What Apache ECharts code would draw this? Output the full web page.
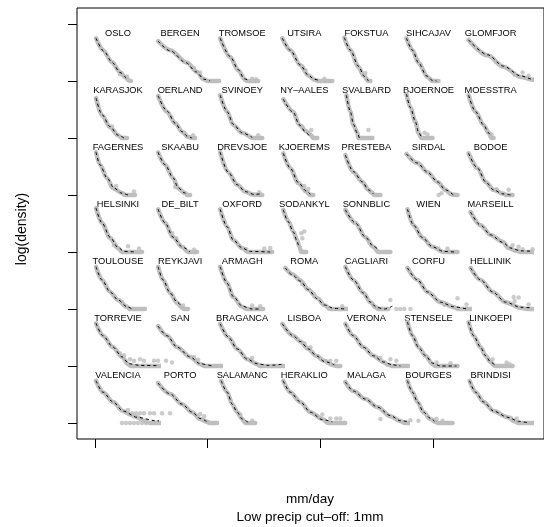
<!DOCTYPE html>
<html>
<head>
<meta charset="utf-8">
<script src="https://cdn.jsdelivr.net/npm/echarts@6/dist/echarts.min.js"></script>
<style>
  html, body { margin: 0; padding: 0; background: #fff; }
  #chart { width: 544px; height: 527px; }
</style>
</head>
<body>
<div id="chart"></div>
<script>
// station panels, read row by row (7 per row)
var stations = ['OSLO', 'BERGEN', 'TROMSOE', 'UTSIRA', 'FOKSTUA', 'SIHCAJAV', 'GLOMFJOR',
  'KARASJOK', 'OERLAND', 'SVINOEY', 'NY\u2013AALES', 'SVALBARD', 'BJOERNOE', 'MOESSTRA',
  'FAGERNES', 'SKAABU', 'DREVSJOE', 'KJOEREMS', 'PRESTEBA', 'SIRDAL', 'BODOE',
  'HELSINKI', 'DE_BILT', 'OXFORD', 'SODANKYL', 'SONNBLIC', 'WIEN', 'MARSEILL',
  'TOULOUSE', 'REYKJAVI', 'ARMAGH', 'ROMA', 'CAGLIARI', 'CORFU', 'HELLINIK',
  'TORREVIE', 'SAN', 'BRAGANCA', 'LISBOA', 'VERONA', 'STENSELE', 'LINKOEPI',
  'VALENCIA', 'PORTO', 'SALAMANC', 'HERAKLIO', 'MALAGA', 'BOURGES', 'BRINDISI'];

// empirical log-density (grey points), [mm/day, log density above floor]
var obsCurves = [
  [[0,7.5],[3.5,5.4],[8,3.3],[12,1.6],[14.5,0.7],[16.5,0.1],[17.5,0]],
  [[0,7.0],[6,5.4],[14.5,3.2],[19.5,1.6],[22.5,0.35],[25,0],[30.5,0]],
  [[0,7.5],[5,4.2],[9,1.9],[12.5,0.2],[13.5,0],[19,0]],
  [[0,7.5],[4,5.4],[9,2.8],[13,1.0],[16,0.2],[18,0],[25,0]],
  [[0,7.6],[3,5.4],[7,2.5],[9.5,1.0],[12,0],[13,0]],
  [[0,7.5],[3,5.4],[6,3.2],[10.5,0.7],[13,0],[16,0]],
  [[0,7.2],[9.5,4.5],[17.5,2.5],[26,0.7],[32.5,0.2],[37,0],[40,0]],
  [[0,7.0],[3,4.0],[7,1.9],[11,0.5],[13,0],[15.5,0]],
  [[0,7.4],[4.5,4.6],[8.5,2.6],[12,1.1],[15,0.2],[17,0],[18.5,0]],
  [[0,7.5],[3.5,4.6],[6.5,2.3],[11,0.9],[16.5,0],[21,0]],
  [[0.5,6.8],[5.5,4.6],[8.5,2.3],[12,1.2],[14,0.6],[15.5,0],[17.5,0]],
  [[1,7.5],[3,4.6],[4.5,2.3],[6.5,0.9],[7,0],[14,0]],
  [[0,7.7],[2,5.3],[4.5,2.8],[6,0.9],[7.5,0],[13,0]],
  [[0,7.5],[3.5,4.6],[7.5,2.3],[10,0.9],[11.5,0],[12.5,0]],
  [[0,7.5],[2,5.3],[5.5,3.0],[8.5,1.2],[13,0.35],[14.5,0],[19.5,0]],
  [[0,7.5],[3.5,5.3],[7.5,3.0],[10,1.2],[13.5,0.35],[14.5,0],[16,0]],
  [[0,7.5],[4,4.0],[8.5,1.8],[12.5,0.6],[16,0.1],[21,0]],
  [[0.5,7.3],[4,4.7],[8,2.1],[12,0.6],[14,0],[15.5,0]],
  [[0.5,7.0],[4.5,4.0],[9,2.3],[12,0.9],[14,0.35],[15,0],[18,0]],
  [[0,7.2],[5.5,5.6],[10.5,4.0],[15.5,2.3],[19.5,0.9],[22.5,0.1],[25.5,0]],
  [[0,7.3],[4.5,4.7],[8.5,2.3],[12.5,0.9],[17.5,0.2],[19,0],[22,0]],
  [[0,7.7],[3,5.1],[7,2.5],[11,0.7],[13,0],[23,0]],
  [[0,7.5],[3.5,5.1],[7.5,2.6],[12,0.9],[15,0],[19.5,0]],
  [[0,7.5],[3.5,4.4],[6.5,2.1],[11,0.7],[14,0],[26,0]],
  [[0.5,7.4],[3,5.4],[5.5,3.6],[7.5,2.0],[8.5,1.0],[9.5,0],[12,0]],
  [[0.5,7.4],[5.5,5.1],[10.5,2.6],[14.5,0.9],[17,0],[23,0]],
  [[0.5,7.5],[3.5,4.7],[8,2.5],[13,0.9],[18.5,0],[25.5,0]],
  [[1,7.0],[6,4.7],[11,3.0],[17,1.8],[20,0.7],[24,0.2],[26,0],[38,0]],
  [[0,7.4],[3,5.1],[7,3.0],[11,1.6],[15.5,0.35],[17,0],[24.5,0]],
  [[0,7.4],[2.5,5.1],[6,2.8],[9.5,1.1],[12,0.2],[13,0],[15,0]],
  [[0,7.4],[3.5,4.5],[6.5,2.1],[11,0.4],[13,0],[21.5,0]],
  [[1.5,7.2],[5,6.1],[9,5.0],[13,3.4],[17.5,1.9],[21,0.7],[24,0],[39,0]],
  [[0.5,7.4],[4.5,5.1],[9.5,2.8],[13,1.2],[15.5,0.35],[17,0],[22,0]],
  [[0.5,7.2],[5.5,5.1],[10.5,3.0],[17,1.2],[23.5,0.35],[26,0],[33.5,0]],
  [[1,7.2],[6,5.1],[12,3.0],[18.5,1.2],[26,0.2],[29,0],[38,0]],
  [[0,7.5],[3.5,5.3],[8.5,3.3],[13,1.6],[16,0.35],[17.5,0],[41,0]],
  [[0,7.0],[4.5,5.3],[9.5,3.3],[16,1.6],[21,0.35],[23,0],[48,0]],
  [[0,7.4],[4,5.1],[8.5,3.0],[13.5,1.2],[18.5,0.35],[20,0],[36.5,0]],
  [[0,7.4],[5.5,5.3],[9,4.3],[13,3.0],[17,1.8],[21,0.9],[25,0.2],[27,0],[29,0]],
  [[0.5,7.4],[4.5,5.3],[9.5,3.3],[14.5,1.8],[19.5,0.7],[22,0.2],[24,0],[32,0]],
  [[0.5,7.7],[3,5.3],[6,3.3],[9.5,1.8],[13,0.35],[14.5,0],[25.5,0]],
  [[0,7.7],[2.5,5.3],[6,3.3],[8.5,1.8],[11,0.7],[13,0],[22,0]],
  [[0,7.4],[3.5,5.4],[8.5,3.7],[13.5,2.1],[17,1.5],[20.5,1.0],[24,0.4],[27,0],[60,0]],
  [[0,7.0],[6,5.1],[12,3.3],[17,1.9],[21,0.7],[24.5,0.2],[26,0],[29.5,0]],
  [[0.5,7.4],[3.5,5.4],[6,3.3],[8.5,1.9],[11,0.7],[12.5,0],[17.5,0]],
  [[0.5,7.4],[4,5.4],[9,3.7],[14,1.9],[20,0.7],[23,0],[31.5,0]],
  [[0.5,7.2],[4.5,5.6],[10.5,4.2],[16.5,2.8],[23,1.2],[28,0.35],[30,0],[44,0]],
  [[0.5,7.4],[3,5.4],[5.5,3.7],[8.5,1.9],[12,0.7],[14.5,0.2],[16,0],[23,0]],
  [[0.5,7.4],[3.5,5.4],[7.5,3.7],[12.5,2.1],[19.5,1.0],[23,0.3],[25,0],[37.5,0]]
];

// fitted model (dashed line)
var fitCurves = [
  [[0,7.5],[4,5.2],[8,3.3],[12,1.5],[15,0.5]],
  [[0,7.0],[6,5.3],[14,3.2],[19,1.6],[23,0.3],[26,0]],
  [[0,7.5],[5,4.3],[9,2.0],[12,0.4],[14.5,0]],
  [[0,7.5],[4,5.4],[9,2.8],[13,1.0],[16,0.3],[19,0]],
  [[0,7.6],[3,5.4],[7,2.6],[10,0.8],[12,0]],
  [[0,7.5],[3,5.4],[6,3.2],[10,0.9],[13,0.1],[15,0]],
  [[0,7.2],[9.5,4.6],[17.5,2.6],[26,0.9],[33,0.2],[40,0]],
  [[0,7.0],[3,4.1],[7,2.0],[11,0.5],[14,0]],
  [[0,7.4],[4.5,4.7],[8.5,2.6],[12,1.1],[15,0.2],[17,0]],
  [[0,7.5],[3.5,4.6],[6.5,2.4],[11,0.9],[16,0.1]],
  [[0.5,6.8],[5.5,4.5],[8.5,2.3],[12,0.9],[13.5,0.4]],
  [[1,7.5],[3,4.6],[4.5,2.4],[6.5,0.8],[7.5,0]],
  [[0,7.7],[2,5.3],[4.5,2.8],[6,1.0],[7.5,0.1]],
  [[0,7.5],[3.5,4.6],[7.5,2.3],[10,0.9],[11,0.3]],
  [[0,7.5],[2,5.3],[5.5,3.0],[9,1.2],[13,0.3],[16,0]],
  [[0,7.5],[3.5,5.3],[7.5,3.0],[10,1.3],[13,0.4],[15,0]],
  [[0,7.5],[4,4.0],[8.5,1.8],[12.5,0.6],[17,0.1],[20,0.2]],
  [[0.5,7.3],[4,4.7],[8,2.2],[12,0.7],[14,0.1]],
  [[0.5,7.0],[4.5,4.1],[9,2.3],[12,0.9],[14.5,0.2]],
  [[0,7.2],[5.5,5.6],[10.5,4.0],[15.5,2.3],[19.5,0.9],[23.5,0]],
  [[0,7.3],[4.5,4.7],[8.5,2.3],[12.5,0.9],[17,0.2],[21,0]],
  [[0,7.7],[3,5.1],[7,2.6],[11,0.8],[14,0.1],[20,0]],
  [[0,7.5],[3.5,5.1],[7.5,2.6],[12,0.9],[16,0]],
  [[0,7.5],[3.5,4.4],[6.5,2.1],[11,0.7],[15,0.1],[25,0]],
  [[0.5,7.4],[3,5.3],[5.5,3.5],[7.5,1.8],[8,1.2]],
  [[0.5,7.4],[5.5,5.1],[10.5,2.6],[14.5,1.0],[17,0.4]],
  [[0.5,7.5],[3.5,4.7],[8,2.5],[13,0.9],[18.5,0.1],[24,0]],
  [[1,7.0],[6,4.7],[11,3.0],[17,1.7],[21,0.7],[26,0.2],[38,0]],
  [[0,7.4],[3,5.1],[7,3.0],[11,1.6],[15.5,0.4],[18,0]],
  [[0,7.4],[2.5,5.1],[6,2.8],[9.5,1.2],[12,0.3]],
  [[0,7.4],[3.5,4.5],[6.5,2.2],[11,0.5],[16,0],[20,0]],
  [[1.5,7.2],[5,6.0],[9,4.9],[13,3.4],[17.5,1.8],[21,0.7],[26,0.1],[32,0]],
  [[0.5,7.4],[4.5,5.1],[9.5,2.8],[13,1.2],[16,0.3],[20,0],[24,0.5]],
  [[0.5,7.2],[5.5,5.1],[10.5,3.0],[17,1.2],[23.5,0.4],[30,0]],
  [[1,7.2],[6,5.1],[12,3.0],[18.5,1.2],[26,0.3],[38,0]],
  [[0,7.5],[3.5,5.3],[8.5,3.3],[13,1.6],[16.5,0.4],[22,0.1],[40,0]],
  [[0,7.0],[4.5,5.3],[9.5,3.3],[16,1.6],[21,0.4],[27,0]],
  [[0,7.4],[4,5.1],[8.5,3.0],[13.5,1.2],[18.5,0.4],[24,0.1],[31,0.3]],
  [[0,7.4],[5.5,5.3],[9,4.3],[13,3.0],[17,1.8],[21,0.8],[26,0.2]],
  [[0.5,7.4],[4.5,5.3],[9.5,3.3],[14.5,1.8],[19.5,0.7],[24,0.2],[28,0]],
  [[0.5,7.7],[3,5.3],[6,3.3],[9.5,1.8],[13,0.5],[17,0],[25,0]],
  [[0,7.7],[2.5,5.3],[6,3.3],[8.5,1.8],[11,0.7],[13,0.2]],
  [[0,7.4],[3.5,5.4],[8.5,3.7],[13.5,2.1],[20.5,1.0],[30,0.4],[41,0.1]],
  [[0,7.0],[6,5.1],[12,3.3],[17,1.9],[21,0.8],[25,0.1]],
  [[0.5,7.4],[3.5,5.4],[6,3.3],[8.5,1.9],[11,0.7],[14,0.1]],
  [[0.5,7.4],[4,5.4],[9,3.7],[14,1.9],[20,0.6],[25,0.2]],
  [[0.5,7.2],[4.5,5.6],[10.5,4.2],[16.5,2.8],[23,1.3],[28,0.4],[36,0]],
  [[0.5,7.4],[3,5.4],[5.5,3.7],[8.5,1.9],[12,0.8],[14,0.3]],
  [[0.5,7.4],[3.5,5.4],[7.5,3.7],[12.5,2.1],[19.5,1.0],[25,0.3],[30,0]]
];

// isolated grey points off the main band
var strayPoints = [
  [[12,1.2],[15.5,0.8]],
  [[18,2.3],[21,1.5]],
  [[16,0.4],[18,0.3]],
  [[10,2.5],[11.5,1.9],[21,0.4]],
  [[10.5,1.4]],
  [[5.5,3.7],[7,2.8]],
  [[23,1.1],[27,1.5],[30,0.9]],
  [[8,2.0]],
  [[13,0.9],[17.5,0.5]],
  [[19,0.5]],
  [[10,2.0],[14.5,1.4]],
  [[12,1.4]],
  [[9,0.9],[10.5,0.6]],
  [[11.5,0.6]],
  [[10,1.6],[19,0.6]],
  [[8.5,1.4],[11,1.0]],
  [[19.5,0.5]],
  [[11,1.6],[13,1.1]],
  [],
  [[16,0],[17.5,0.3]],
  [[14,1.0],[20,0.9]],
  [[9,1.2],[16,1.0],[21.5,0.6]],
  [[7,3.3],[9,2.4],[18,0.4]],
  [[13,0.5],[22,0.6],[25,0.7]],
  [[9.5,3.3],[11,3.6],[10,2.4]],
  [],
  [[16,0.6],[20.5,0.6]],
  [[22,1.2],[25,0.9],[27,0.5],[32,0.5]],
  [[13,1.2],[15,0.5]],
  [[12.5,0.6]],
  [[16,0.6],[20,0.5]],
  [[10,4.4],[16,2.6],[30,0.5]],
  [[23,1.6],[26,0],[28,0],[30,0],[33,0]],
  [[19,0.7],[25.5,1.9],[30,0.8]],
  [[22.5,2.1],[25,2.0],[23,1.4],[30,0.8]],
  [[12,2.2],[14,1.9],[17,1.2],[19,0.9],[22,1.2],[24,0.9],[29,0.9],[31,0.9],[35,0.9],[38,0.6]],
  [[18,1.6],[20,1.1]],
  [[16,1.4]],
  [[11,4.0],[14,3.3],[24,0.9],[27,0.9]],
  [[18,1.4],[23,1.2],[26,0.9]],
  [[15,0.6],[22,0.5]],
  [[12,1.2],[19,0.6],[20.5,0.3]],
  [[13,0],[15,0],[17,0],[19,0],[21,0],[23,0],[25,0],[16,2.3],[18,1.7],[20,1.7],[22,1.7],[24,1.7],[27,1.7],[29,1.7],[33,1.7],[37,1.7]],
  [[21,1.6],[23,1.2]],
  [[10,1.5],[16,0.4]],
  [[20,1.5],[24,0.8],[27,0.8],[29,0.8]],
  [[18,0.7],[33,0.5],[37,0.4]],
  [[15,0.7],[18,0.4]],
  [[21,0.9],[24,0.8]]
];

// outer axes (unlabelled ticks)
var xTicks = [0, 50, 100, 150];
var yTicks = [0, 1, 2, 3, 4, 5, 6, 7];
var yLabel = 'log(density)';
var xLabel = 'mm/day\nLow precip cut\u2013off: 1mm';

var FONT = '"Liberation Sans", Arial, Helvetica, sans-serif';
var GREY = '#bebebe';

var grid = [], xAxis = [], yAxis = [], series = [], graphic = [];

stations.forEach(function (name, i) {
    var row = Math.floor(i / 7), col = i % 7;
    grid.push({ left: 96 + 62.1 * col, top: 24 + 57 * row, width: 62, height: 57 });
    xAxis.push({ type: 'value', gridIndex: i, min: 0, max: 31, show: false });
    yAxis.push({ type: 'value', gridIndex: i, min: 0, max: 10, show: false });

    series.push({
        type: 'line', xAxisIndex: i, yAxisIndex: i, data: obsCurves[i],
        smooth: 0.3, smoothMonotone: 'x', symbol: 'none', clip: false, silent: true, z: 1,
        lineStyle: { color: GREY, width: 4.5, cap: 'round', join: 'round' }
    });
    series.push({
        type: 'scatter', xAxisIndex: i, yAxisIndex: i, data: strayPoints[i],
        symbolSize: 4.5, clip: false, silent: true, z: 1,
        itemStyle: { color: GREY }
    });
    series.push({
        type: 'line', xAxisIndex: i, yAxisIndex: i, data: fitCurves[i],
        smooth: 0.3, smoothMonotone: 'x', symbol: 'none', clip: false, silent: true, z: 3,
        lineStyle: { color: '#000', width: 1, type: [3, 3] }
    });

    graphic.push({
        type: 'text', x: 118 + 62.1 * col, y: 33 + 57 * row, silent: true,
        style: {
            text: name, fill: '#000', font: '9.3px ' + FONT,
            align: 'center', verticalAlign: 'middle',
            textAlign: 'center', textVerticalAlign: 'middle'
        }
    });
});

// frame panel
var F = stations.length;
grid.push({ left: 77, top: 8, right: -3, bottom: 88, show: true, borderColor: '#000', borderWidth: 1, backgroundColor: 'transparent' });
xAxis.push({
    type: 'value', gridIndex: F, min: -7.94, max: 199.3, position: 'bottom',
    axisLine: { show: false, onZero: false }, splitLine: { show: false },
    axisTick: { show: true, inside: false, length: 9, customValues: xTicks, lineStyle: { color: '#000' } },
    axisLabel: { show: false }
});
yAxis.push({
    type: 'value', gridIndex: F, min: -0.281, max: 7.281, position: 'left',
    axisLine: { show: false, onZero: false }, splitLine: { show: false },
    axisTick: { show: true, inside: false, length: 9, customValues: yTicks, lineStyle: { color: '#000' } },
    axisLabel: { show: false }
});

graphic.push({
    type: 'text', x: 22, y: 229, rotation: Math.PI / 2, silent: true,
    style: {
        text: yLabel, fill: '#000', font: '14px ' + FONT,
        align: 'center', verticalAlign: 'middle', textAlign: 'center', textVerticalAlign: 'middle'
    }
});
graphic.push({
    type: 'text', x: 310, y: 508, silent: true,
    style: {
        text: xLabel, fill: '#000', font: '13.5px ' + FONT, lineHeight: 18,
        align: 'center', verticalAlign: 'middle', textAlign: 'center', textVerticalAlign: 'middle'
    }
});

var chart = echarts.init(document.getElementById('chart'));
chart.setOption({
    animation: false,
    backgroundColor: '#fff',
    grid: grid,
    xAxis: xAxis,
    yAxis: yAxis,
    series: series,
    graphic: { elements: graphic }
});
</script>
</body>
</html>
